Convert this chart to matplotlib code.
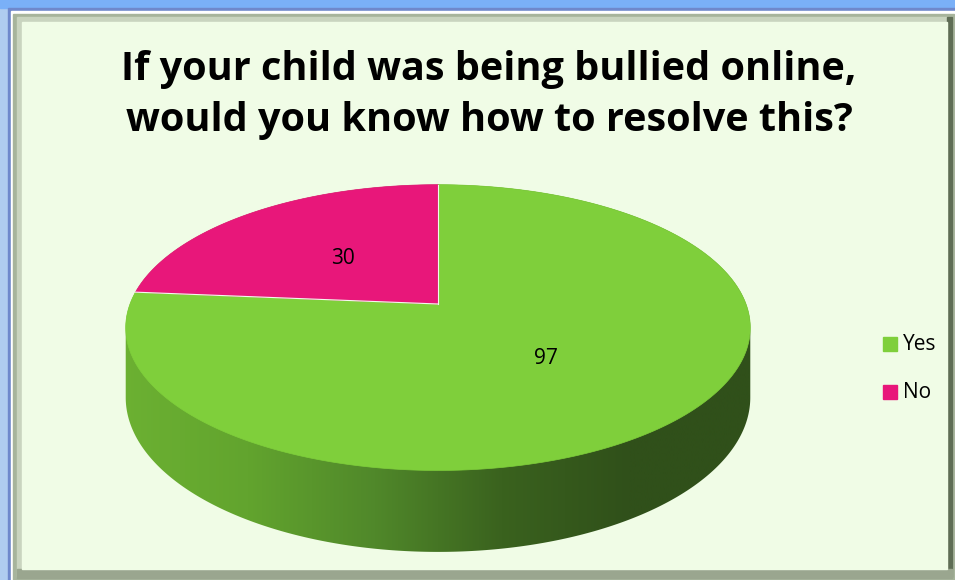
import numpy as np
import matplotlib
matplotlib.use("Agg")
import matplotlib.pyplot as plt
from matplotlib.patches import Polygon, Rectangle

# data
labels = ["Yes", "No"]
values = [97, 30]
colors = ["#7fcf3b", "#e8177a"]
title = "If your child was being bullied online,\nwould you know how to resolve this?"

W, H = 955, 580
fig = plt.figure(figsize=(W / 100, H / 100), dpi=100)
ax = fig.add_axes([0, 0, 1, 1])
ax.set_xlim(0, W)
ax.set_ylim(H, 0)
ax.axis("off")

# frame (outer blue border, bevel, pale green plot area)
ax.add_patch(Rectangle((0, 0), W, H, color="#b0ccf0", zorder=0))
ax.add_patch(Rectangle((0, 0), W, 8, color="#7ab0f8", zorder=0))
ax.add_patch(Rectangle((8, 8), W - 8, H - 8, color="#6f88cc", zorder=0))
ax.add_patch(Rectangle((11, 11), W - 11, H - 11, color="#ffffff", zorder=0))
ax.add_patch(Rectangle((13, 14), W - 14, H - 14, color="#a7b49c", zorder=0))
ax.add_patch(Rectangle((17, 17), W - 20, H - 20, color="#c9d4bf", zorder=0))
ax.add_patch(Rectangle((947, 17), 5, H - 20, color="#5f6d55", zorder=0))
ax.add_patch(Rectangle((17, 569), W - 20, 9, color="#9aa68f", zorder=0))
ax.add_patch(Rectangle((22, 22), 925, 547, color="#f0fce6", zorder=0))

# 3d pie geometry (simple perspective of a tilted disk)
cx, cy = 438, 304
A, B, k = 139, 308, 0.165
depth = 68


def proj(t, drop=0.0):
    u, v = np.cos(t), np.sin(t)
    w = 1 + k * v
    return cx + B * u / w, cy - A * v / w + drop / w


def hull(points):
    pts = sorted(set(map(tuple, points)))

    def cross(o, a, b):
        return (a[0] - o[0]) * (b[1] - o[1]) - (a[1] - o[1]) * (b[0] - o[0])

    lower, upper = [], []
    for p in pts:
        while len(lower) >= 2 and cross(lower[-2], lower[-1], p) <= 0:
            lower.pop()
        lower.append(p)
    for p in reversed(pts):
        while len(upper) >= 2 and cross(upper[-2], upper[-1], p) <= 0:
            upper.pop()
        upper.append(p)
    return lower[:-1] + upper[:-1]


total = sum(values)
fracs = np.array(values) / total
# No slice starts at 12 o'clock going counter-clockwise, Yes takes the rest
starts = [np.pi / 2 + 2 * np.pi * fracs[1], np.pi / 2]
spans = [2 * np.pi * fracs[0], 2 * np.pi * fracs[1]]

# side wall: silhouette of top + bottom discs, filled with a horizontal gradient
ts = np.linspace(0, 2 * np.pi, 720)
xt, yt = proj(ts)
xb, yb = proj(ts, depth)
sil = hull(np.column_stack([np.r_[xt, xb], np.r_[yt, yb]]))
side = Polygon(sil, closed=True, facecolor="none", edgecolor="none")
ax.add_patch(side)
side_cmap = matplotlib.colors.LinearSegmentedColormap.from_list(
    "side", ["#6cb132", "#62a42e", "#50882a", "#3a621e", "#30501a", "#30501a"])
grad = np.linspace(0, 1, 256)[None, :]
im = ax.imshow(grad, cmap=side_cmap, aspect="auto", interpolation="bilinear",
               extent=(cx - B - 10, cx + B + 10, cy + A * 2, cy - A), zorder=2)
im.set_clip_path(side)

# top faces
for start, span, col in zip(starts, spans, colors):
    t = np.linspace(start, start + span, 300)
    xs, ys = proj(t)
    pts = [(cx, cy)] + list(zip(xs, ys))
    ax.add_patch(Polygon(pts, closed=True, facecolor=col, edgecolor=col,
                         lw=0.5, zorder=3))

# thin light separators between slices
for start in starts:
    ex, ey = proj(start)
    ax.plot([cx, ex], [cy, ey], color="#f4f9ee", lw=0.8, zorder=4)

# value labels
label_pos = [(546, 358), (343, 258)]
for (lx, ly), val in zip(label_pos, values):
    ax.text(lx, ly, str(val), ha="center", va="center", fontsize=15,
            family="Open Sans", color="#000000", zorder=5)

# title
ax.text(489, 95, title, ha="center", va="center", fontsize=28.5, fontweight="bold",
        family="Open Sans", linespacing=1.38, color="#000000", zorder=5)

# legend
for i, (lab, col) in enumerate(zip(labels, colors)):
    ly = 344 + i * 48
    ax.add_patch(Rectangle((883, ly - 7), 14, 14, color=col, zorder=5))
    ax.text(903, ly, lab, ha="left", va="center", fontsize=15,
            family="Open Sans", color="#000000", zorder=5)

fig.savefig("out.png", dpi=100)
